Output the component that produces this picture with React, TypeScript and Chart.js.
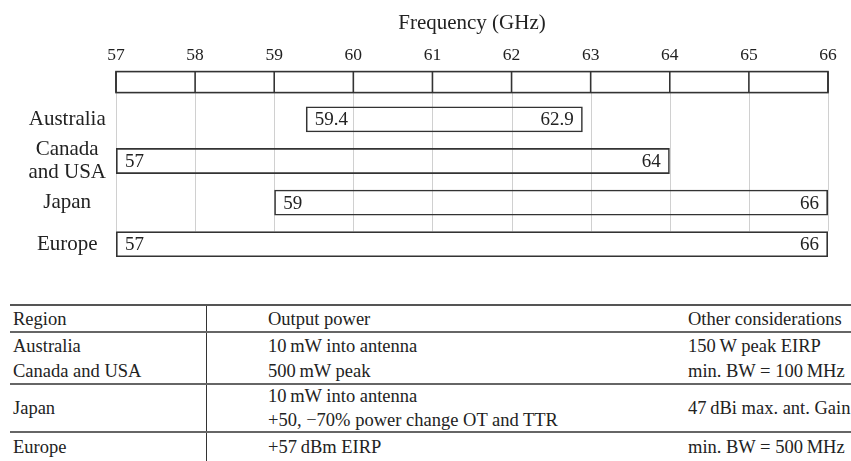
import React, { useEffect, useRef } from 'react';
import { Chart, registerables } from 'chart.js';

Chart.register(...registerables);

// ---- chart data ----
const regions: (string | string[])[] = ['Australia', ['Canada', 'and USA'], 'Japan', 'Europe'];
const bandStart = [59.4, 57, 59, 57];
const bandEnd = [62.9, 64, 66, 66];
const startLabels = ['59.4', '57', '59', '57'];
const endLabels = ['62.9', '64', '66', '66'];
const freqMin = 57;
const freqMax = 66;
const freqStep = 1;
const axisTitle = 'Frequency (GHz)';

// ---- table data ----
const tableHeader = ['Region', 'Output power', 'Other considerations'];
const tableRegions = ['Australia', 'Canada and USA', 'Japan', 'Europe'];
const outputPower: string[][] = [
  ['10\u2009mW into antenna'],
  ['500\u2009mW peak'],
  ['10\u2009mW into antenna', '+50, \u221270% power change OT and TTR'],
  ['+57\u2009dBm EIRP'],
];
const otherConsiderations = [
  '150\u2009W peak EIRP',
  'min. BW = 100\u2009MHz',
  '47\u2009dBi max. ant. Gain',
  'min. BW = 500\u2009MHz',
];
const ruleAfter = [false, true, true, false];

const SERIF = '"Liberation Serif", "Times New Roman", serif';
const INK = '#222';
const LINE = '#333';
const GRID = '#d0d0d0';
const BOX_GAP = 6;
const BOX_H = 21;

const framePlugin = {
  id: 'frameAndLabels',
  beforeDatasetsDraw(chart: any) {
    const { ctx, chartArea } = chart;
    const xs = chart.scales.x;
    const meta = chart.getDatasetMeta(0);
    const lastBar = meta.data[meta.data.length - 1].getProps(['y', 'height'], true);
    const gridBottom = lastBar.y - lastBar.height / 2;
    const boxBottom = chartArea.top - BOX_GAP;
    const boxTop = boxBottom - BOX_H;
    ctx.save();
    ctx.strokeStyle = GRID;
    ctx.lineWidth = 1;
    xs.ticks.forEach((t: any) => {
      const px = Math.round(xs.getPixelForValue(t.value)) + 0.5;
      ctx.beginPath();
      ctx.moveTo(px, boxBottom);
      ctx.lineTo(px, gridBottom);
      ctx.stroke();
    });
    ctx.strokeStyle = LINE;
    ctx.lineWidth = 1.6;
    ctx.strokeRect(xs.left, boxTop, xs.right - xs.left, BOX_H);
    xs.ticks.forEach((t: any) => {
      const px = xs.getPixelForValue(t.value);
      ctx.beginPath();
      ctx.moveTo(px, boxTop);
      ctx.lineTo(px, boxBottom);
      ctx.stroke();
    });
    ctx.restore();
  },
  afterDatasetsDraw(chart: any) {
    const { ctx } = chart;
    const meta = chart.getDatasetMeta(0);
    ctx.save();
    ctx.fillStyle = INK;
    ctx.font = `19px ${SERIF}`;
    ctx.textBaseline = 'middle';
    meta.data.forEach((bar: any, i: number) => {
      const p = bar.getProps(['x', 'y', 'base'], true);
      const left = Math.min(p.x, p.base);
      const right = Math.max(p.x, p.base);
      ctx.textAlign = 'left';
      ctx.fillText(startLabels[i], left + 9, p.y + 1);
      ctx.textAlign = 'right';
      ctx.fillText(endLabels[i], right - 9, p.y + 1);
    });
    ctx.restore();
  },
};

function BandChart() {
  const ref = useRef<HTMLCanvasElement | null>(null);
  useEffect(() => {
    if (!ref.current) return;
    const chart = new Chart(ref.current, {
      type: 'bar',
      data: {
        labels: regions as any,
        datasets: [
          {
            data: bandStart.map((s, i) => [s, bandEnd[i]]) as any,
            backgroundColor: 'rgba(0,0,0,0)',
            borderColor: LINE,
            borderWidth: 1.6,
            borderSkipped: false,
            barPercentage: 0.62,
            categoryPercentage: 1,
          },
        ],
      },
      options: {
        indexAxis: 'y',
        responsive: false,
        animation: false,
        layout: { padding: { left: 0, right: 23, top: 0, bottom: 0 } },
        plugins: { legend: { display: false }, tooltip: { enabled: false } },
        scales: {
          x: {
            type: 'linear',
            position: 'top',
            min: freqMin,
            max: freqMax,
            ticks: {
              stepSize: freqStep,
              padding: 4,
              color: INK,
              font: { family: SERIF, size: 17.5 },
            },
            grid: { display: false, drawTicks: true, tickLength: 29 },
            border: { display: false },
            title: {
              display: true,
              text: axisTitle,
              color: INK,
              font: { family: SERIF, size: 21 },
              padding: { top: 11, bottom: 5 },
            },
            afterFit: (s: any) => {
              s.height = 98.6;
            },
          },
          y: {
            type: 'category',
            position: 'left',
            ticks: {
              autoSkip: false,
              crossAlign: 'center',
              padding: 10,
              color: INK,
              font: { family: SERIF, size: 21, lineHeight: 1.05 },
            },
            grid: { display: false, drawTicks: false },
            border: { display: false },
            afterFit: (s: any) => {
              s.width = 116;
            },
          },
        },
      },
      plugins: [framePlugin],
    } as any);
    return () => chart.destroy();
  }, []);
  return <canvas ref={ref} width={851} height={286} style={{ display: 'block' }} />;
}

function RegTable() {
  const cellBase: React.CSSProperties = {
    boxSizing: 'border-box',
    display: 'flex',
    flexDirection: 'column',
    justifyContent: 'center',
  };
  const col1: React.CSSProperties = { ...cellBase, width: 197, paddingLeft: 3, borderRight: `1px solid ${LINE}` };
  const col2: React.CSSProperties = { ...cellBase, width: 478, paddingLeft: 61 };
  const col3: React.CSSProperties = { ...cellBase, flex: 1, paddingLeft: 3, whiteSpace: 'nowrap' };
  const rowHeights = [26, 26, 48, 28];
  return (
    <div
      style={{
        position: 'absolute',
        left: 10,
        top: 304,
        width: 841,
        fontFamily: SERIF,
        fontSize: 18.5,
        color: INK,
        lineHeight: '24px',
      }}
    >
      <div
        style={{
          display: 'flex',
          height: 29,
          boxSizing: 'border-box',
          borderTop: '2px solid #555',
          borderBottom: '2px solid #666',
        }}
      >
        <div style={col1}>{tableHeader[0]}</div>
        <div style={col2}>{tableHeader[1]}</div>
        <div style={col3}>{tableHeader[2]}</div>
      </div>
      {tableRegions.map((r, i) => (
        <div
          key={r}
          style={{
            display: 'flex',
            height: rowHeights[i],
            boxSizing: 'border-box',
            borderBottom: ruleAfter[i] ? '2px solid #666' : 'none',
          }}
        >
          <div style={col1}>{r}</div>
          <div style={col2}>
            {outputPower[i].map((t, j) => (
              <div key={j} style={{ whiteSpace: 'nowrap' }}>{t}</div>
            ))}
          </div>
          <div style={col3}>{otherConsiderations[i]}</div>
        </div>
      ))}
    </div>
  );
}

export default function App() {
  return (
    <div
      style={{
        position: 'fixed',
        left: 0,
        top: 0,
        width: 851,
        height: 461,
        background: '#fff',
        overflow: 'hidden',
      }}
    >
      <BandChart />
      <RegTable />
    </div>
  );
}
